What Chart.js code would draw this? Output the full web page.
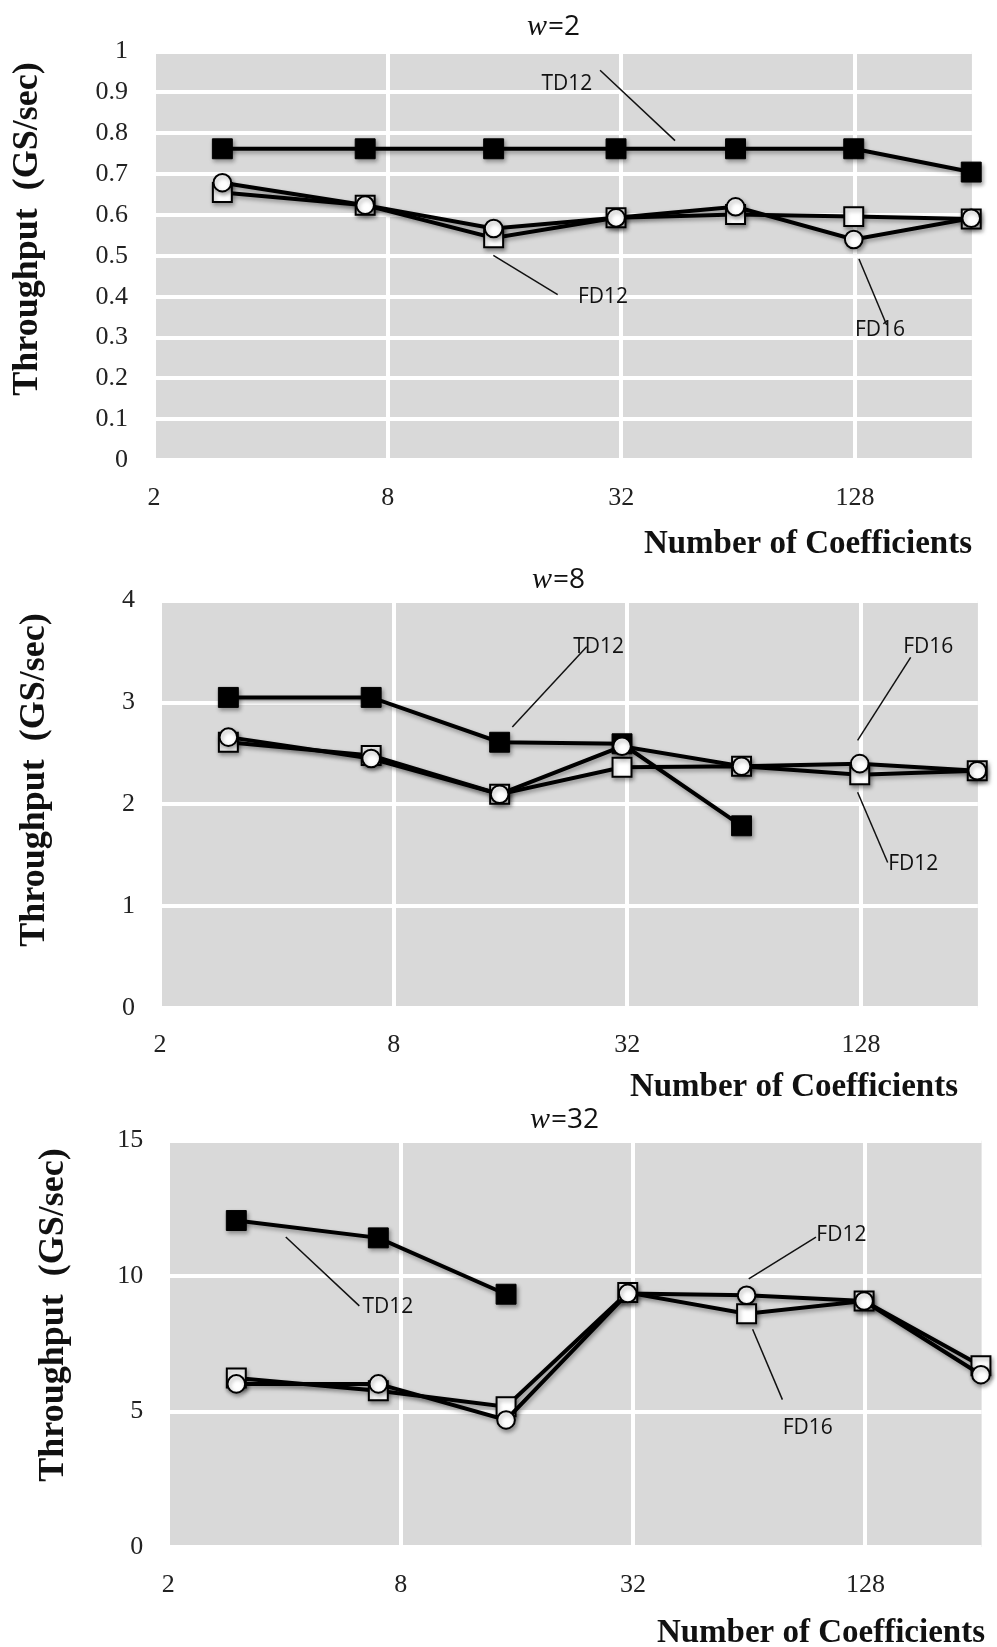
<!DOCTYPE html>
<html><head><meta charset="utf-8">
<script src="https://cdn.jsdelivr.net/npm/chart.js@4.4.1/dist/chart.umd.min.js"></script>
<style>
html,body{margin:0;padding:0;background:#fff;}
body{width:997px;height:1647px;position:relative;overflow:hidden;}
canvas{position:absolute;left:0;}
</style></head><body>
<canvas id="c1" width="997" height="560" style="top:0px;width:997px;height:560px"></canvas>
<canvas id="c2" width="997" height="540" style="top:560px;width:997px;height:540px"></canvas>
<canvas id="c3" width="997" height="547" style="top:1100px;width:997px;height:547px"></canvas>
<script>
// ---------------- data ----------------
const coefficients = [3, 7, 15, 31, 63, 127, 255];
const xTickValues = [2, 8, 32, 128];
const xMin = 2, xMax = 256;
const seriesNames = ['TD12', 'FD12', 'FD16'];
const panelW = ['2', '8', '32'];

const w2TD12 = [0.762, 0.762, 0.762, 0.762, 0.762, 0.762, 0.705];
const w2FD12 = [0.655, 0.624, 0.544, 0.593, 0.601, 0.596, 0.590];
const w2FD16 = [0.679, 0.624, 0.567, 0.593, 0.620, 0.540, 0.592];

const w8TD12 = [3.05, 3.05, 2.61, 2.595, 1.79];
const w8FD12 = [2.61, 2.48, 2.10, 2.365, 2.375, 2.29, 2.33];
const w8FD16 = [2.66, 2.45, 2.10, 2.57, 2.375, 2.40, 2.33];

const w32TD12 = [12.05, 11.41, 9.33];
const w32FD12 = [6.24, 5.77, 5.18, 9.39, 8.61, 9.08, 6.69];
const w32FD16 = [6.02, 6.02, 4.69, 9.36, 9.29, 9.08, 6.36];

const yMins = [0, 0, 0];
const yMaxs = [1, 4, 15];
const ySteps = [0.1, 1, 5];

// annotation labels: text position and leader line, in data units
const w2Notes = [
  {text: 'TD12', at: [23.17, 0.921], from: [28.2, 0.954], to: [44.0, 0.782]},
  {text: 'FD12', at: [28.7, 0.400], from: [14.97, 0.501], to: [21.93, 0.405]},
  {text: 'FD16', at: [148.4, 0.319], from: [131.0, 0.4925], to: [154.4, 0.331]}
];
const w8Notes = [
  {text: 'TD12', at: [26.99, 3.546], from: [16.17, 2.759], to: [25.14, 3.546]},
  {text: 'FD16', at: [190.7, 3.546], from: [171.8, 3.442], to: [125.4, 2.628]},
  {text: 'FD12', at: [174.5, 1.414], from: [125.4, 2.119], to: [149.9, 1.430]}
];
const w32Notes = [
  {text: 'TD12', at: [7.41, 8.86], from: [4.03, 11.44], to: [6.25, 8.90]},
  {text: 'FD12', at: [110.9, 11.53], from: [63.8, 9.90], to: [95.3, 11.44]},
  {text: 'FD16', at: [90.7, 4.40], from: [65.3, 8.04], to: [78.0, 5.44]}
];

// ---------------- layout (pixels) ----------------
const panels = [
  {id: 'c1', w: panelW[0], series: [w2TD12, w2FD12, w2FD16], notes: w2Notes, yi: 0,
   yAxisW: 154, padRight: 25.1, padTop: 51.5, xAxisH: 99.8, yPad: 26, xPad: 22,
   titleX: 553, titleY: 35, yTitleX: 28, yTitleY: 229, xTitleX: 972, xTitleY: 553},
  {id: 'c2', w: panelW[1], series: [w8TD12, w8FD12, w8FD16], notes: w8Notes, yi: 1,
   yAxisW: 160, padRight: 19.1, padTop: 38.2, xAxisH: 91.8, yPad: 25, xPad: 21,
   titleX: 558, titleY: 28, yTitleX: 35, yTitleY: 220, xTitleX: 958, xTitleY: 536},
  {id: 'c3', w: panelW[2], series: [w32TD12, w32FD12, w32FD16], notes: w32Notes, yi: 2,
   yAxisW: 168.35, padRight: 11.2, padTop: 39, xAxisH: 100, yPad: 25, xPad: 22.5,
   titleX: 564, titleY: 28, yTitleX: 54, yTitleY: 215, xTitleX: 985, xTitleY: 542}
];

const styles = [
  {pointStyle: 'rect', pointRadius: 14.1, bg: '#000', bw: 1, order: 3},
  {pointStyle: 'rect', pointRadius: 13.4, bg: '#fff', bw: 2, order: 2},
  {pointStyle: 'circle', pointRadius: 8.8, bg: '#fff', bw: 2, order: 1}
];

Chart.defaults.font.family = "'Liberation Serif', 'Times New Roman', serif";

const bgPlugin = {
  id: 'plotBg',
  beforeDraw(chart) {
    const {ctx, chartArea: a} = chart;
    ctx.save();
    ctx.fillStyle = '#d9d9d9';
    ctx.fillRect(a.left, a.top, a.right - a.left, a.bottom - a.top);
    ctx.restore();
  }
};
const shadowPlugin = {
  id: 'shadow',
  beforeDatasetsDraw(chart) {
    const c = chart.ctx; c.save();
    c.shadowColor = 'rgba(0,0,0,0.35)'; c.shadowBlur = 4; c.shadowOffsetX = 1.5; c.shadowOffsetY = 2.5;
  },
  afterDatasetsDraw(chart) { chart.ctx.restore(); }
};
const textPlugin = {
  id: 'texts',
  afterDraw(chart) {
    const cfg = chart.options.plugins.texts;
    const ctx = chart.ctx, xs = chart.scales.x, ys = chart.scales.y;
    ctx.save();
    ctx.fillStyle = '#111';
    // title w=..
    const wFont = "italic 30px 'Liberation Serif', serif";
    const rFont = "28px 'Open Sans', sans-serif";
    ctx.textBaseline = 'alphabetic'; ctx.textAlign = 'left';
    ctx.font = wFont; const tw1 = ctx.measureText('w').width;
    ctx.font = rFont; const tw2 = ctx.measureText('=' + cfg.w).width;
    const tx = cfg.titleX - (tw1 + tw2) / 2;
    ctx.font = wFont; ctx.fillText('w', tx, cfg.titleY);
    ctx.font = rFont; ctx.fillText('=' + cfg.w, tx + tw1 + 1, cfg.titleY);
    // y title
    ctx.save();
    ctx.translate(cfg.yTitleX, cfg.yTitleY); ctx.rotate(-Math.PI / 2);
    ctx.font = "bold 36px 'Liberation Serif', serif";
    ctx.textAlign = 'center'; ctx.textBaseline = 'middle';
    ctx.fillText('Throughput  (GS/sec)', 0, 0);
    ctx.restore();
    // x title
    ctx.font = "bold 33px 'Liberation Serif', serif";
    ctx.textAlign = 'right'; ctx.textBaseline = 'alphabetic';
    ctx.fillText('Number of Coefficients', cfg.xTitleX, cfg.xTitleY);
    // annotations
    ctx.font = "21px 'Open Sans', sans-serif";
    ctx.textAlign = 'center'; ctx.textBaseline = 'middle';
    ctx.strokeStyle = '#111'; ctx.lineWidth = 1.5;
    for (const n of cfg.notes) {
      ctx.beginPath();
      ctx.moveTo(xs.getPixelForValue(n.from[0]), ys.getPixelForValue(n.from[1]));
      ctx.lineTo(xs.getPixelForValue(n.to[0]), ys.getPixelForValue(n.to[1]));
      ctx.stroke();
      ctx.fillText(n.text, xs.getPixelForValue(n.at[0]), ys.getPixelForValue(n.at[1]));
    }
    ctx.restore();
  }
};

function build(p) {
  const datasets = p.series.map((vals, si) => ({
    label: seriesNames[si],
    data: vals.map((v, i) => ({x: coefficients[i], y: v})),
    borderColor: '#000', borderWidth: 4, tension: 0, fill: false, clip: false,
    pointStyle: styles[si].pointStyle, pointRadius: styles[si].pointRadius,
    pointBackgroundColor: styles[si].bg, pointBorderColor: '#000', pointBorderWidth: styles[si].bw,
    order: styles[si].order
  }));
  const tickFont = {family: "'Liberation Serif', 'Times New Roman', serif", size: 26};
  new Chart(document.getElementById(p.id), {
    type: 'line',
    data: {datasets},
    options: {
      responsive: false, animation: false, devicePixelRatio: 1,
      layout: {padding: {left: 0, right: p.padRight, top: p.padTop, bottom: 0}},
      scales: {
        x: {
          type: 'logarithmic', min: xMin, max: xMax, position: 'bottom',
          afterBuildTicks: ax => { ax.ticks = xTickValues.map(v => ({value: v})); },
          afterFit: ax => { ax.height = p.xAxisH; },
          ticks: {autoSkip: false, maxRotation: 0, minRotation: 0, padding: p.xPad, color: '#222', font: tickFont,
                  callback: v => String(v)},
          grid: {color: '#ffffff', lineWidth: 4, drawTicks: false},
          border: {display: false}
        },
        y: {
          type: 'linear', min: yMins[p.yi], max: yMaxs[p.yi],
          afterFit: ax => { ax.width = p.yAxisW; },
          ticks: {stepSize: ySteps[p.yi], padding: p.yPad, color: '#222', font: tickFont,
                  callback: v => String(+Number(v).toFixed(2))},
          grid: {color: '#ffffff', lineWidth: 4, drawTicks: false},
          border: {display: false}
        }
      },
      plugins: {
        legend: {display: false}, tooltip: {enabled: false}, title: {display: false},
        texts: p
      }
    },
    plugins: [bgPlugin, shadowPlugin, textPlugin]
  });
}

const fontsReady = document.fonts ? Promise.all([
  document.fonts.load("italic 30px 'Liberation Serif'"),
  document.fonts.load("bold 33px 'Liberation Serif'"),
  document.fonts.load("26px 'Liberation Serif'"),
  document.fonts.load("21px 'Open Sans'")
]).catch(() => null) : Promise.resolve();
fontsReady.then(() => panels.forEach(build));
</script>
</body></html>
